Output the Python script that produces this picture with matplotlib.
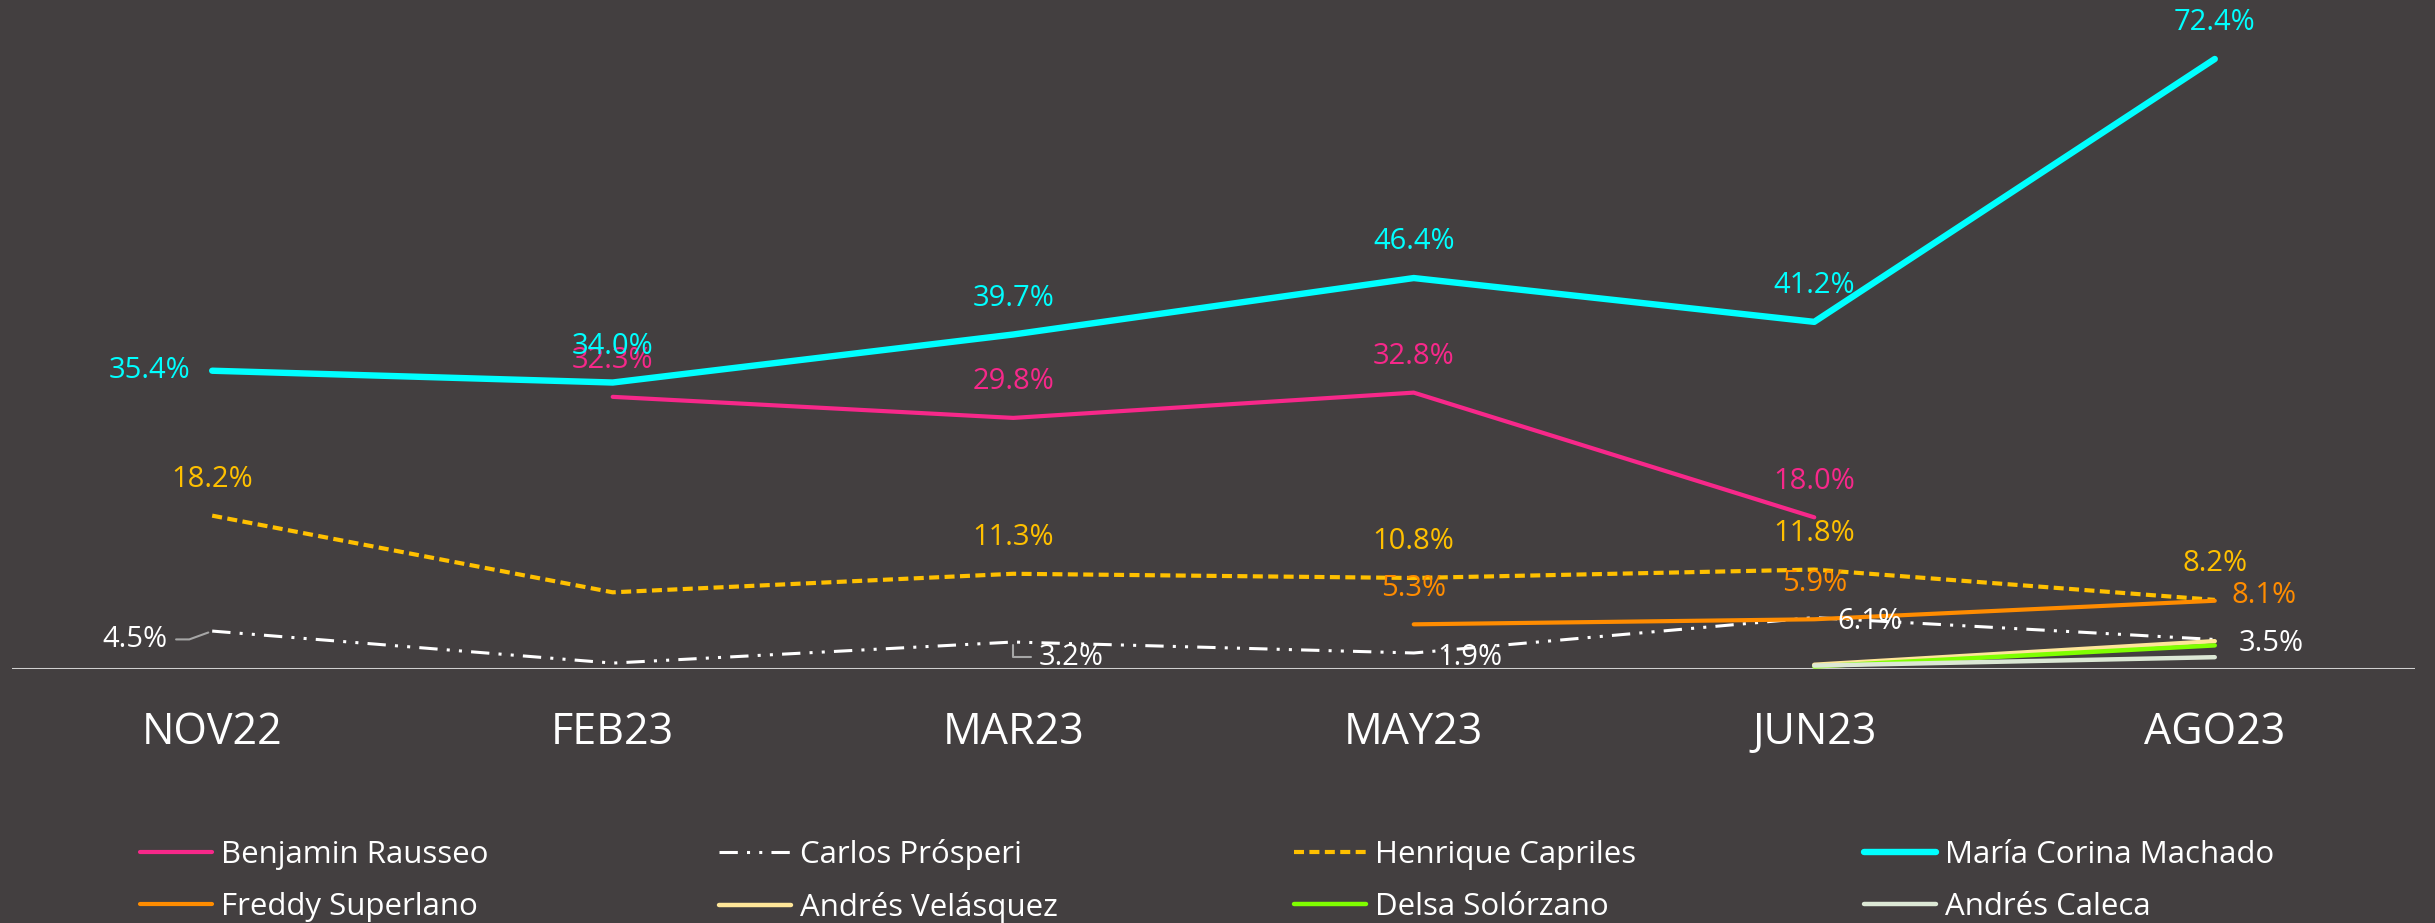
import matplotlib
matplotlib.use("Agg")
import matplotlib.pyplot as plt
import numpy as np

plt.rcParams["font.family"] = ["Open Sans", "DejaVu Sans"]

months = ["NOV22", "FEB23", "MAR23", "MAY23", "JUN23", "AGO23"]
nan = np.nan

rausseo = [nan, 32.3, 29.8, 32.8, 18.0, nan]
prosperi = [4.5, 0.7, 3.2, 1.9, 6.1, 3.5]
capriles = [18.2, 9.1, 11.3, 10.8, 11.8, 8.2]
machado = [35.4, 34.0, 39.7, 46.4, 41.2, 72.4]
superlano = [nan, nan, nan, 5.3, 5.9, 8.1]
velasquez = [nan, nan, nan, nan, 0.5, 3.3]
solorzano = [nan, nan, nan, nan, 0.3, 2.8]
caleca = [nan, nan, nan, nan, 0.4, 1.4]

# which points get a label, and where it goes
rausseo_lbl = {1: "up", 2: "up", 3: "up", 4: "up"}
prosperi_lbl = {0: "lead_left", 2: "lead_right", 3: "right", 4: "right", 5: "right"}
capriles_lbl = {0: "up", 2: "up", 3: "up", 4: "up", 5: "up"}
machado_lbl = {0: "left", 1: "up", 2: "up", 3: "up", 4: "up", 5: "up"}
superlano_lbl = {3: "up", 4: "up", 5: "right8"}

bg = "#433F40"
series = [
    ("Benjamin Rausseo", rausseo, "#F7288A", 3.0, "-", rausseo_lbl),
    ("Carlos Prósperi", prosperi, "#FFFFFF", 2.2, (0, (6, 3, 1, 3, 1, 3)), prosperi_lbl),
    ("Henrique Capriles", capriles, "#FFC000", 3.0, (0, (2.4, 1.3)), capriles_lbl),
    ("María Corina Machado", machado, "#00FFFF", 4.6, "-", machado_lbl),
    ("Freddy Superlano", superlano, "#FF8C00", 3.0, "-", superlano_lbl),
    ("Andrés Velásquez", velasquez, "#FFE699", 3.2, "-", {}),
    ("Delsa Solórzano", solorzano, "#7FFF00", 3.2, "-", {}),
    ("Andrés Caleca", caleca, "#DCE8D5", 3.2, "-", {}),
]

fig = plt.figure(figsize=(24.35, 9.23), dpi=100, facecolor=bg)
ax = fig.add_axes([0.0049, 0.2752, 0.9869, 0.7248])
ax.set_facecolor(bg)

x = np.arange(len(months))
handles = []
for name, vals, col, lw, ls, lbl in series:
    ln, = ax.plot(x, vals, color=col, lw=lw, linestyle=ls,
                  solid_capstyle="round", dash_capstyle="butt", label=name)
    handles.append(ln)
    for i, pos in lbl.items():
        v = vals[i]
        txt = f"{v:.1f}%"
        kw = dict(xy=(i, v), textcoords="offset points", color=col,
                  fontsize=21)
        if pos == "up":
            ax.annotate(txt, xytext=(0, 26), ha="center", va="center", **kw)
        elif pos == "left":
            ax.annotate(txt, xytext=(-16, 0), ha="right", va="center", **kw)
        elif pos == "right":
            ax.annotate(txt, xytext=(17, -3), ha="left", va="center", **kw)
        elif pos == "right8":
            ax.annotate(txt, xytext=(12, 4), ha="left", va="center", **kw)
        elif pos == "lead_left":
            ax.annotate(txt, xytext=(-32, -6), ha="right", va="center",
                        arrowprops=dict(arrowstyle="-", color="#A6A6A6", lw=1.5,
                                        shrinkA=4, shrinkB=3,
                                        connectionstyle="angle,angleA=0,angleB=20,rad=0"),
                        **kw)
        elif pos == "lead_right":
            ax.annotate(txt, xytext=(18, -11), ha="left", va="center",
                        arrowprops=dict(arrowstyle="-", color="#A6A6A6", lw=1.5,
                                        shrinkA=3, shrinkB=2,
                                        connectionstyle="angle,angleA=0,angleB=90,rad=0"),
                        **kw)

ax.set_xlim(-0.5, 5.5)
ax.set_ylim(0, 79.4)
ax.axhline(0, color="#D0D0D0", lw=2.2, zorder=1)
for s in ax.spines.values():
    s.set_visible(False)
ax.set_yticks([])
ax.set_xticks(x)
ax.set_xticklabels(months, fontsize=31, color="white")
ax.tick_params(axis="x", length=0, pad=30)

# legend laid out as 4 evenly spaced columns, 2 rows
col_x = [140, 719, 1294, 1864]
for c in range(4):
    hs = [handles[c], handles[c + 4]]
    leg = fig.legend(hs, [h.get_label() for h in hs], loc="center left",
                     bbox_to_anchor=(col_x[c] / 2435, 0.0455), frameon=False,
                     fontsize=22.5, labelcolor="white", handlelength=2.3,
                     handletextpad=0.3, labelspacing=0.68, borderpad=0,
                     borderaxespad=0)

fig.savefig("out.png", dpi=100, facecolor=bg)
